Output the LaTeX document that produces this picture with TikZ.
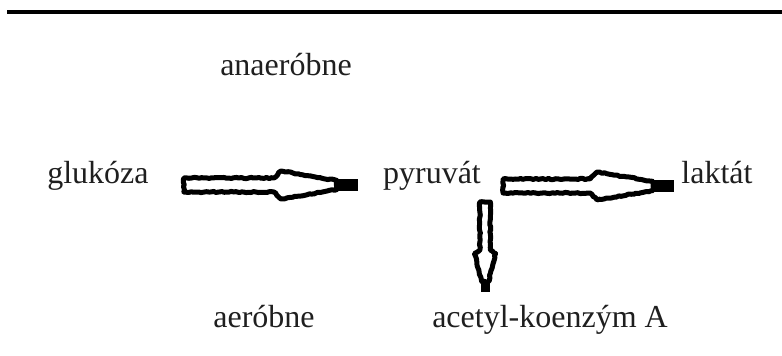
\documentclass[tikz,border=0pt]{standalone}
\usepackage{fontspec}
\setmainfont{Liberation Serif}
\usetikzlibrary{calc,decorations.pathmorphing}
\pgfmathsetseed{7}
\tikzset{
  word/.style={inner sep=0pt, anchor=base, font=\fontsize{32}{40}\selectfont, text=black!88},
  rough/.style={decorate, decoration={random steps, segment length=2.5pt, amplitude=0.6pt}},
  pics/fatarrow/.style n args={3}{code={
    \draw[rough, line width=5pt, line join=round] (0,{-7*#3}) -- ({#1-84*#2},{-7*#3}) -- ({#1-77*#2},{-14*#3})
      -- ({#1-21*#2},{-4.5*#3}) -- ({#1-21*#2},{4.5*#3}) -- ({#1-77*#2},{14*#3}) -- ({#1-84*#2},{7*#3}) -- (0,{7*#3}) -- cycle;
    \fill ({#1-22*#2},{-6*#3}) rectangle (#1,{6*#3});
  }}
}
\begin{document}
\begin{tikzpicture}[x=1pt,y=-1pt]
\useasboundingbox (0,0) rectangle (782,356);
\draw[line width=3.5pt] (7,12) -- (782,12);
\node[word] (ana) at (286,75) {anaeróbne};
\node[word] (glu) at (98,183) {glukóza};
\node[word] (pyr) at (432,183) {pyruvát};
\node[word] (lak) at (717,183) {laktát};
\node[word] (aer) at (264,327) {aeróbne};
\node[word] (acet) at (550,327) {acetyl-koenzým A};
\coordinate (g2p) at ($(glu.base east)+(35,2)$);
\coordinate (p2l) at ($(pyr.base east)+(22,3)$);
\coordinate (p2a) at ($(pyr.base east)+(4,19)$);
\pic at (g2p) {fatarrow={174}{1}{1}};
\pic at (p2l) {fatarrow={171}{1}{1}};
\pic[rotate=-90] at (p2a) {fatarrow={90}{0.5}{0.75}};
\end{tikzpicture}
\end{document}
